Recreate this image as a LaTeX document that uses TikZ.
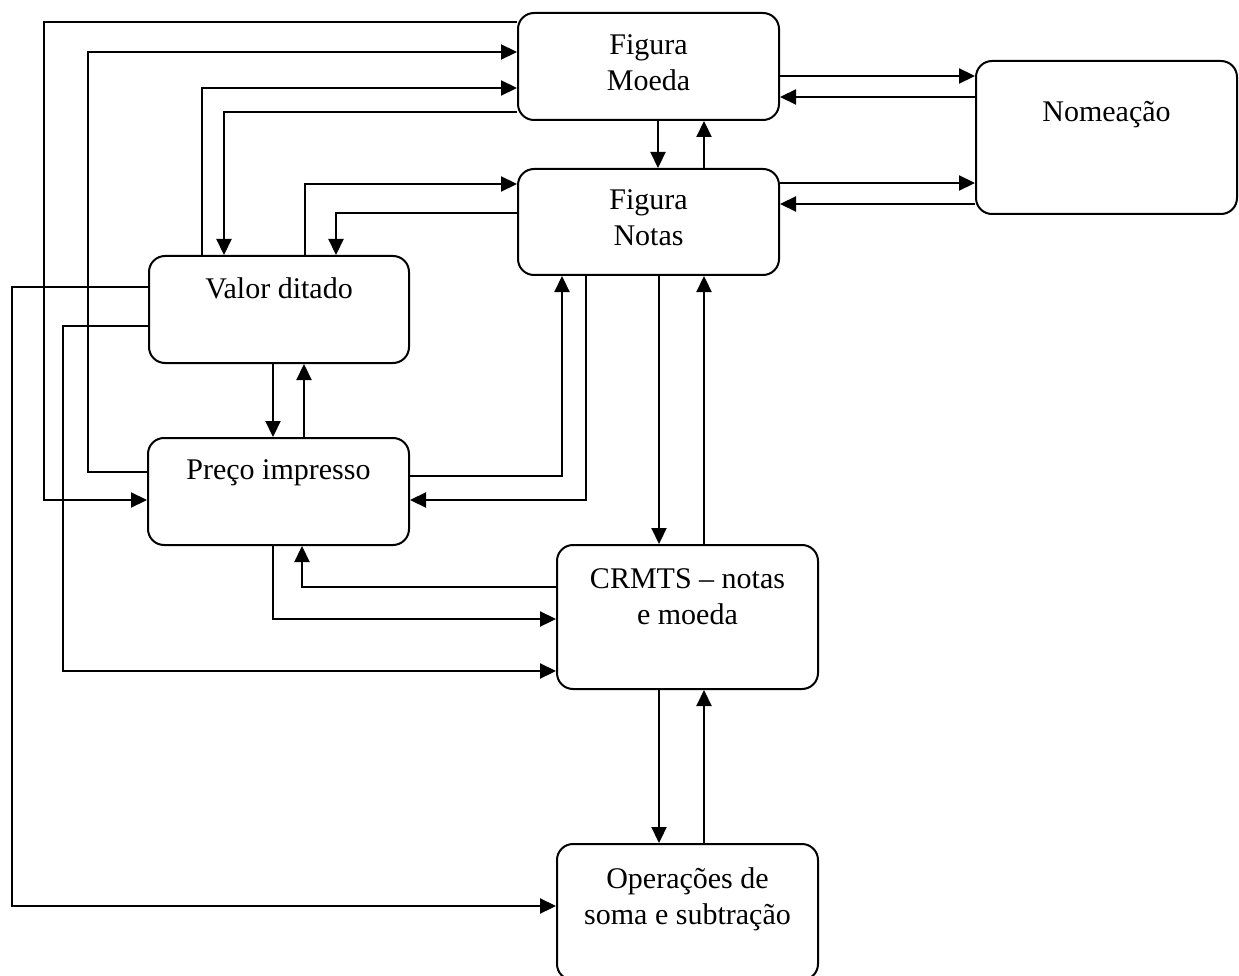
\documentclass[tikz,border=0pt]{standalone}
\usepackage{fontspec}
\setmainfont{Liberation Serif}
\usetikzlibrary{arrows.meta}
\tikzset{
  box/.style={draw, line width=2pt, rounded corners=16pt, inner sep=0pt, anchor=north west, minimum width=261pt},
  txt/.style={inner sep=0pt, anchor=north, align=center, font=\fontsize{30}{36}\selectfont},
  con/.style={line width=2.2pt},
  arr/.style={con, -{Triangle[length=16pt,width=15pt]}}
}
\begin{document}
\begin{tikzpicture}[x=1pt,y=-1pt]
\useasboundingbox (0,0) rectangle (1239,976);
% boxes
\node[box, minimum height=107pt] (FM) at (517,12) {};
\node[box, minimum height=106pt] (FN) at (517,168) {};
\node[box, minimum height=153pt] (NO) at (975,60) {};
\node[box, minimum width=260pt, minimum height=107pt] (VD) at (148,255) {};
\node[box, minimum height=107pt] (PI) at (147,437) {};
\node[box, minimum height=144pt] (CR) at (556,544) {};
\node[box, minimum height=136pt] (OP) at (556,843) {};
% texts
\node[txt, yshift=-22pt] (FMt) at (FM.north) {Figura\\Moeda};
\node[txt, yshift=-21pt] (FNt) at (FN.north) {Figura\\Notas};
\node[txt, yshift=-41pt] (NOt) at (NO.north) {Nomeação};
\node[txt, yshift=-22pt] (VDt) at (VD.north) {Valor ditado};
\node[txt, yshift=-22pt] (PIt) at (PI.north) {Preço impresso};
\node[txt, yshift=-24pt] (CRt) at (CR.north) {CRMTS – notas\\e moeda};
\node[txt, yshift=-24pt] (OPt) at (OP.north) {Operações de\\soma e subtração};
% left-side connectors
\draw[arr] (FM.west |- 0,22) -| (44,500) -- (PI.west |- 0,500);
\draw[arr] (PI.west |- 0,472) -| (88,52) -- (FM.west |- 0,52);
\draw[arr] (VD.north -| 202,0) |- (FM.west |- 0,88);
\draw[arr] (FM.west |- 0,112) -| (VD.north -| 224,0);
\draw[arr] (VD.north -| 305,0) |- (FN.west |- 0,184);
\draw[arr] (FN.west |- 0,213) -| (VD.north -| 336,0);
\draw[arr] (VD.west |- 0,287) -| (12,906) -- (OP.west |- 0,906);
\draw[arr] (VD.west |- 0,326) -| (63,671) -- (CR.west |- 0,671);
% VD <-> PI
\draw[arr] (VD.south -| 273,0) -- (PI.north -| 273,0);
\draw[arr] (PI.north -| 304,0) -- (VD.south -| 304,0);
% PI <-> FN
\draw[arr] (PI.east |- 0,476) -| (FN.south -| 562,0);
\draw[arr] (FN.south -| 586,0) |- (PI.east |- 0,500);
% PI <-> CR
\draw[arr] (PI.south -| 273,0) |- (CR.west |- 0,619);
\draw[arr] (CR.west |- 0,587) -| (PI.south -| 302,0);
% FM <-> FN
\draw[arr] (FM.south -| 658,0) -- (FN.north -| 658,0);
\draw[arr] (FN.north -| 704,0) -- (FM.south -| 704,0);
% to/from Nomeacao
\draw[arr] (FM.east |- 0,76) -- (NO.west |- 0,76);
\draw[arr] (NO.west |- 0,97) -- (FM.east |- 0,97);
\draw[arr] (FN.east |- 0,183) -- (NO.west |- 0,183);
\draw[arr] (NO.west |- 0,204) -- (FN.east |- 0,204);
% FN <-> CR
\draw[arr] (FN.south -| 659,0) -- (CR.north -| 659,0);
\draw[arr] (CR.north -| 704,0) -- (FN.south -| 704,0);
% CR <-> OP
\draw[arr] (CR.south -| 659,0) -- (OP.north -| 659,0);
\draw[arr] (OP.north -| 704,0) -- (CR.south -| 704,0);
\end{tikzpicture}
\end{document}
